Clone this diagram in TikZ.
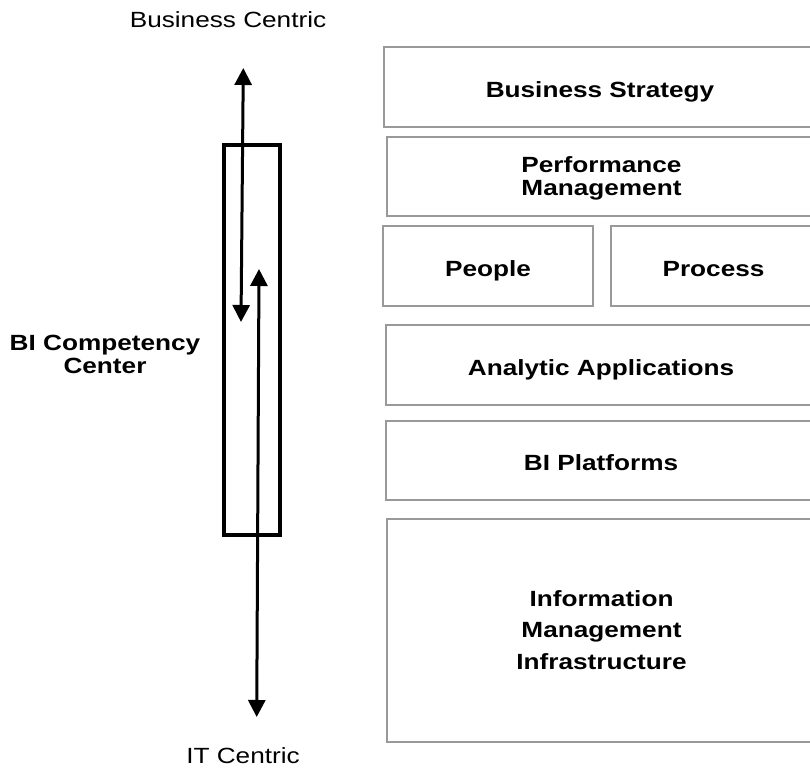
\documentclass[tikz,border=0pt]{standalone}
\usepackage{fontspec}
\setmainfont{Liberation Sans}[FakeStretch=1.19]
\usetikzlibrary{arrows.meta, positioning}
\definecolor{layergray}{HTML}{999999}

\begin{document}
\begin{tikzpicture}[x=1pt, y=-1pt,
		font=\fontsize{22}{24}\selectfont]
		
		% Setup the styles for the layers
		\tikzset{layer style/.style={draw=layergray,
				line width=2pt,
				minimum height=80,
				align=center,
				text depth=0pt,
				font=\fontsize{22}{23}\selectfont\bfseries},
			one line/.style={layer style, text height=20.5pt},
			axis arrow/.style={line width=3pt,
				{Triangle[length=17pt,width=17pt]}-{Triangle[length=17pt,width=17pt]}}}
		
		\useasboundingbox (0, 0) rectangle (810, 770);
		\clip (0, 0) rectangle (810, 770);
		
		% Draw the layers
		\node[one line, minimum width=432] at (600, 87)   (strategy)    {Business Strategy};
		\node[layer style, minimum width=429, minimum height=79] at (601.5, 176.5) (performance) {Performance\\Management};
		\node[one line, minimum width=210] at (488, 266)  (people)      {People};
		\node[one line, minimum width=205] at (713.5, 266) (process)    {Process};
		\node[one line, minimum width=430] at (601, 365)  (analytic)    {Analytic Applications};
		\node[one line, minimum width=430, minimum height=79] at (601, 460.5) (platforms) {BI Platforms};
		\node[layer style, minimum width=429, minimum height=223,
			font=\fontsize{22}{31.5}\selectfont\bfseries] at (601.5, 630) (infrastructure) {Information\\Management\\Infrastructure};
		
		% Draw the competency center
		\node[draw, line width=3.5pt, minimum width=56, minimum height=390] at (252, 340) (center) {};
		\node[font=\fontsize{22}{23}\selectfont\bfseries, align=center, text depth=0pt] at (105, 354) (centerlabel) {BI Competency\\Center};
		\node[anchor=base] at (228, 28)  (business) {Business Centric};
		\node[anchor=base] at (243, 763) (itcentric) {IT Centric};
		
		% Ends of the arrows
		\coordinate (bizup)   at (243.3, 68);
		\coordinate (bizdown) at (241, 322);
		\coordinate (itup)    at (259, 269);
		\coordinate (itdown)  at (256.7, 717);
		
		% Connect the ends with arrows
		\draw[axis arrow] (bizup) -- (bizdown);
		\draw[axis arrow] (itup) -- (itdown);
		\end{tikzpicture}
\end{document}
